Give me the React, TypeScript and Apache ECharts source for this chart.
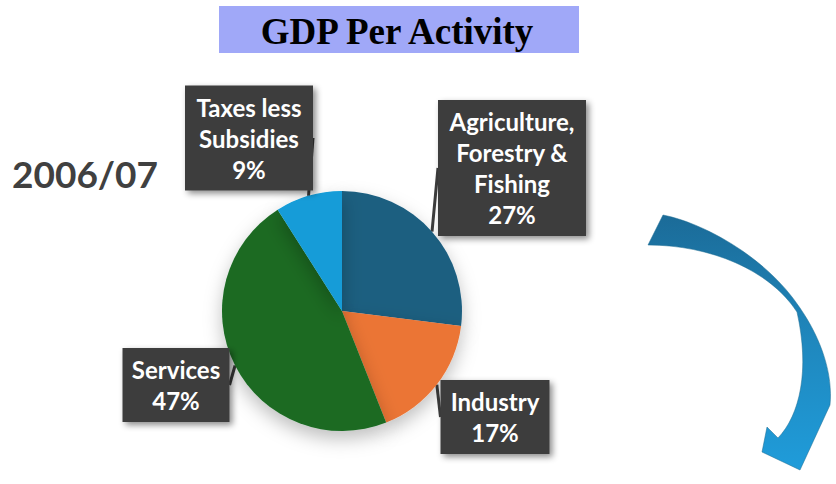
import React, { useEffect, useRef } from "react";
import * as echarts from "echarts";

const categories = ["Agriculture,\nForestry &\nFishing", "Industry", "Services", "Taxes less\nSubsidies"];
const shares = [27, 17, 47, 9];
const sliceColors = ["#1B5E80", "#EB7434", "#1B6B24", "#129CD8"];
const titleText = "GDP Per Activity";
const periodText = "2006/07";

// label box centres and widths (layout only)
const labelCenters: [number, number][] = [
  [512, 168],
  [495, 417],
  [176, 385],
  [249, 138],
];
const labelWidths = [148, 109, 107, 128];

const arrowPath =
  "M648 245 L663 215 C700 222 765 255 800 308 C822 340 833 375 830 405 L800 470 L762 452 L767 427 L778 438 C800 415 810 370 797 312 C770 270 710 245 648 245 Z";

echarts.graphic.registerShape("curvedArrow", echarts.graphic.extendPath(arrowPath, {}) as any);

export default function App() {
  const ref = useRef<HTMLDivElement>(null);
  useEffect(() => {
    if (!ref.current) return;
    const chart = echarts.init(ref.current, undefined, { renderer: "svg" });
    const option: any = {
      animation: false,
      backgroundColor: "#ffffff",
      graphic: [
        {
          type: "rect",
          shape: { x: 219, y: 6, width: 360, height: 47 },
          style: { fill: "#A0A8F8" },
          z: 1,
        },
        {
          type: "text",
          x: 397,
          y: 31,
          style: {
            text: titleText,
            fill: "#000000",
            font: "bold 37px 'Liberation Serif', serif",
            align: "center",
            verticalAlign: "middle",
          },
          z: 2,
        },
        {
          type: "text",
          x: 85,
          y: 173,
          style: {
            text: periodText,
            fill: "#404040",
            font: "bold 37px Lato, sans-serif",
            align: "center",
            verticalAlign: "middle",
          },
          z: 2,
        },
        {
          type: "curvedArrow",
          x: 0,
          y: 0,
          style: {
            fill: new echarts.graphic.LinearGradient(0, 0, 0, 1, [
              { offset: 0, color: "#1B6B98" },
              { offset: 0.5, color: "#1F88BE" },
              { offset: 1, color: "#1F9CDA" },
            ]),
            stroke: "#1A6A90",
            lineWidth: 0.5,
          },
          z: 2,
        },
      ],
      series: [
        {
          type: "pie",
          center: [342, 311],
          radius: 120,
          startAngle: 90,
          clockwise: true,
          avoidLabelOverlap: false,
          itemStyle: {
            shadowBlur: 18,
            shadowColor: "rgba(0,0,0,0.25)",
            shadowOffsetY: 8,
          },
          emphasis: { disabled: true },
          label: {
            show: true,
            position: "outside",
            formatter: "{b}\n{d}%",
            color: "#ffffff",
            fontFamily: "Lato, sans-serif",
            fontWeight: "bold",
            fontSize: 24,
            lineHeight: 31,
            align: "center",
            backgroundColor: "#3C3C3C",
            padding: [6, 0],
            shadowBlur: 6,
            shadowOffsetX: 3,
            shadowOffsetY: 3,
            shadowColor: "rgba(0,0,0,0.45)",
          },
          labelLine: {
            show: true,
            length: 8,
            length2: 0,
            lineStyle: { color: "#3C3C3C", width: 3 },
          },
          labelLayout: (params: any) => {
            const c = labelCenters[params.dataIndex];
            return { x: c[0], y: c[1], align: "center", verticalAlign: "middle" };
          },
          data: categories.map((name, i) => ({
            name,
            value: shares[i],
            itemStyle: { color: sliceColors[i] },
            label: { width: labelWidths[i] },
          })),
        },
      ],
    };
    chart.setOption(option);
    return () => chart.dispose();
  }, []);
  return (
    <div
      ref={ref}
      style={{ position: "fixed", left: 0, top: 0, width: 836, height: 484 }}
    />
  );
}
